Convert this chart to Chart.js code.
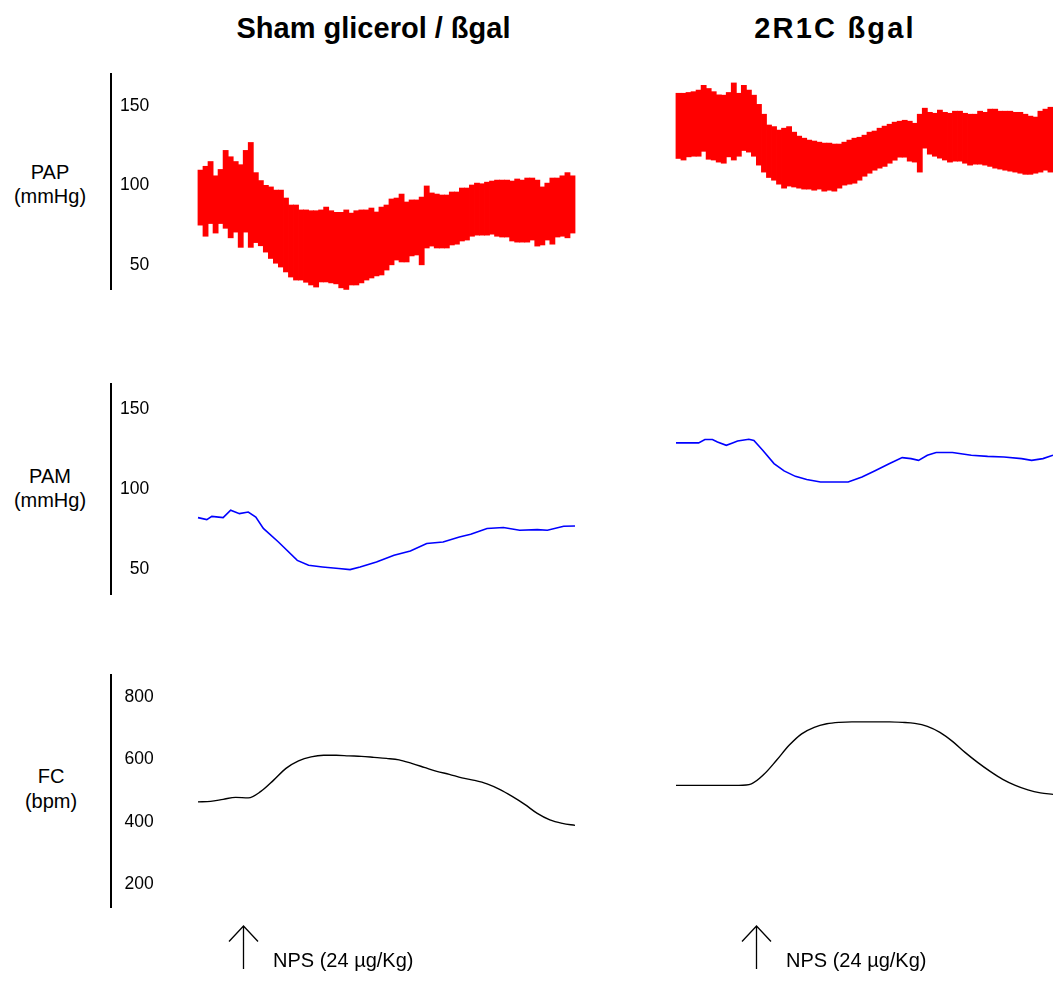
<!DOCTYPE html>
<html>
<head>
<meta charset="utf-8">
<script src="https://cdn.jsdelivr.net/npm/chart.js@4.4.1/dist/chart.umd.min.js"></script>
<style>
  html, body { margin: 0; padding: 0; background: #fff; }
  #fig { position: relative; width: 1053px; height: 982px; overflow: hidden; background: #fff;
         font-family: "Liberation Sans", Arial, sans-serif; color: #000; }
  .title { position: absolute; top: 13.5px; font-weight: bold; font-size: 29px; line-height: 29px;
           white-space: nowrap; transform: translateX(-50%); }
  .rowlab { position: absolute; font-size: 20px; line-height: 24.7px; text-align: center;
            white-space: nowrap; transform: translateX(-50%); }
  canvas { position: absolute; }
</style>
</head>
<body>
<div id="fig">
  <div class="title" style="left:373.5px">Sham glicerol / ßgal</div>
  <div class="title" style="left:835px; letter-spacing:2.2px">2R1C ßgal</div>
  <div class="rowlab" style="left:50px; top:159.6px">PAP<br>(mmHg)</div>
  <div class="rowlab" style="left:50px; top:463.6px">PAM<br>(mmHg)</div>
  <div class="rowlab" style="left:51px; top:764.3px">FC<br>(bpm)</div>
</div>
<script>
// ---- recorded traces (time in s from start of recording) ----
const groups = ['Sham glicerol / ßgal', '2R1C ßgal'];

// pulsatile arterial pressure: one beat envelope every 4 s (min / max, mmHg)
const papStep = 4;
const papMaxSham = [109.6,112,115,106,110,122,118,115,113,122,127,108,103,100,99,97,97,92,87.6,87.6,
  84.5,84.5,84,84,84.5,86.3,84,83,83,84.5,82.5,84,84.5,84.5,85.7,83.2,86.3,87.6,91.4,92,
  94.5,89.5,90.8,90.8,92.6,99.6,95.2,94.5,93.9,93.9,95.8,95.8,98.3,98.3,100.2,101.4,101,102,102.7,103.3,
  103.3,103.3,102.7,104,103.3,104.6,104.6,103.3,99,101.4,104.6,104.6,106,108,106];
const papMinSham = [75,68,76,70,76,73,67,70.6,61,70.6,61,64,62,58,54,51,48.6,45.5,42.3,40.4,
  40.4,39,37.3,36,39.2,39.2,38.6,38,35.5,34.5,37.3,37.3,38.6,40.4,41.7,43,43.6,46.7,50,53,
  51.8,51.8,55.6,56.2,50,60.6,61.8,60.6,60.6,60.6,62.5,63,65,65.6,68,68.7,68.7,68.7,69.3,68,
  67.5,67.5,65,64.3,64.3,64.3,65.6,61.8,62.5,65.6,63,67.5,68,67,70];
const papMax2R1C = [158,158,158.5,159,160,163,161,159,157,156.8,158.5,164.5,158,163,160,156.8,151,144.8,138,137,
  134.8,136,137,133.5,131,129.7,128.5,127.9,127.2,126.6,126.6,126,126,127.2,128.5,129.7,130.3,131.6,133.5,134.2,
  136,137.3,138.5,139.8,140.4,141,140.4,139.1,144.8,148.6,146,145.4,147.4,146,145.4,146.7,146.7,145.4,144.8,144.8,
  146.7,146,148,148,146.7,146.7,146.7,146,146,144.8,143.6,143,146.7,148,149.2];
const papMin2R1C = [117,116,118,118.4,118.4,121.5,116.5,116,114.7,114,118,116,118.4,122,121,118.4,112.8,108.4,105,103.3,
  100.8,98.3,99.6,99,98.3,97.7,97.7,97,97.7,96.4,97,96.4,98.3,100.2,100.8,101.4,103.3,105.8,107.7,109.6,
  110.9,112,114,115.9,117.8,117.8,115.3,114.7,108.4,123.5,119.7,118.4,117.2,116,114.7,115.3,115.3,114,112.8,113.4,
  113.4,112.8,112,110.9,110.3,109.6,109,108.4,107.7,107,107,107.7,108.4,109.6,108.4];

// mean arterial pressure (mmHg)
const pamTimeSham = [0,7,11,20,26,33,40,46,52,64,79,88,99,112,121,129,142,156,169,182,195,208,217,230,243,256,270,278,291,300];
const pamSham     = [82.1,80.9,82.9,82.1,86.7,84.6,85.6,82.5,75.4,66.9,55.4,52.3,51.3,50.3,49.6,51.3,54.4,58.6,61.3,65.9,
                     66.9,70,71.7,75.3,75.9,74.2,74.6,74.2,76.7,76.9];
const pamTime2R1C = [0,18,23,29,33,40,45,49,58,62,69,78,86,95,104,115,137,148,158,170,180,187,193,200,207,220,235,248,261,275,283,292,300];
const pam2R1C     = [128.8,128.8,130.9,130.9,129.4,127.3,128.8,130,131.1,130.4,124.2,115.9,111.3,107.9,105.9,104.4,104.4,107.5,
                     111.3,115.9,119.6,119,117.9,121.1,122.8,122.8,121.1,120.4,120,119,117.9,119,121.1];

// heart rate (bpm), every 10 s
const fcTime = [0,10,20,30,40,50,60,70,80,90,100,110,120,130,140,150,160,170,180,190,200,210,220,230,240,250,260,270,280,290,300];
const fcSham = [464.5,466,472.6,479,477.4,498,533.5,572,596,609,614,614,612,610.6,607.4,604,599.4,588,575.3,562.4,
                552.8,541.6,533.5,522.3,504.7,482,456.5,427.6,406.7,395.5,389];
const fc2R1C = [517.5,517.5,517.5,517.5,517.5,517.5,522.3,552.8,597.8,645.9,682.8,703.7,715,719.7,721.3,721.3,721.3,721.3,
                719.7,716.5,706.9,687.6,658.7,623.4,591.3,562.4,536.8,517.5,503,493.4,488.6];

// nitroprusside bolus time in each recording (s)
const npsTime = [36, 64];
const npsLabel = 'NPS (24 µg/Kg)';

// axis ticks
const papTicks = [50, 100, 150];
const pamTicks = [50, 100, 150];
const fcTicks  = [200, 400, 600, 800];

// ---- layout ----
const SEC_PX = 377 / 300;            // horizontal pixels per second, all panels
const columns = [
  { left: 0,   width: 600, areaLeft: 111, areaRight: 590,  dataStart: 198, axis: true },
  { left: 600, width: 453, areaLeft: 600, areaRight: 1053, dataStart: 676, axis: false }
];
const rows = [
  { top: 73,  bottom: 290, extraBottom: 0,  min: 34.1,  max: 170.8, ticks: papTicks, tickPad: 9 },
  { top: 383, bottom: 595, extraBottom: 0,  min: 33.75, max: 166.25, ticks: pamTicks, tickPad: 9 },
  { top: 674, bottom: 907, extraBottom: 75, min: 127.2, max: 874.8, ticks: fcTicks,  tickPad: 13.5 }
];

const FONT = '"Liberation Sans", Arial, sans-serif';
const zeroPad = s => { s.paddingTop = 0; s.paddingBottom = 0; s.paddingLeft = 0; s.paddingRight = 0; };
// the y axis is drawn as a bare line with labels inside the plot, so it takes no room
const flatAxis = s => { zeroPad(s); s.width = 0; };

const npsMarker = {
  id: 'npsMarker',
  afterDraw(chart, args, opts) {
    const ctx = chart.ctx;
    const x = Math.round(chart.scales.x.getPixelForValue(opts.time)) + 0.5;
    const base = chart.chartArea.bottom;
    const top = base + 19, bottom = base + 62;
    ctx.save();
    ctx.strokeStyle = '#000';
    ctx.lineWidth = 1.3;
    ctx.beginPath();
    ctx.moveTo(x, bottom); ctx.lineTo(x, top);
    ctx.moveTo(x - 14.5, top + 15.5); ctx.lineTo(x, top); ctx.lineTo(x + 14.5, top + 15.5);
    ctx.stroke();
    ctx.fillStyle = '#000';
    ctx.font = '20px ' + FONT;
    ctx.textBaseline = 'alphabetic';
    ctx.textAlign = 'left';
    ctx.fillText(opts.label, x + 29.5, base + 60);
    ctx.restore();
  }
};

function makeChart(col, row, datasets, type, plugins, pluginOpts) {
  const fig = document.getElementById('fig');
  const cv = document.createElement('canvas');
  const h = row.bottom - row.top + row.extraBottom;
  cv.width = col.width; cv.height = h;
  cv.style.left = col.left + 'px'; cv.style.top = row.top + 'px';
  cv.style.width = col.width + 'px'; cv.style.height = h + 'px';
  fig.appendChild(cv);
  return new Chart(cv, {
    type,
    data: { datasets },
    plugins: plugins || [],
    options: {
      responsive: false, animation: false, devicePixelRatio: 1, events: [],
      layout: { padding: { left: col.areaLeft - col.left, right: col.left + col.width - col.areaRight,
                           top: 0, bottom: row.extraBottom } },
      plugins: Object.assign({ legend: { display: false }, tooltip: { enabled: false } }, pluginOpts || {}),
      scales: {
        x: {
          type: 'linear', display: false, offset: false,
          min: (col.areaLeft - col.dataStart) / SEC_PX,
          max: (col.areaRight - col.dataStart) / SEC_PX,
          afterFit: zeroPad
        },
        y: {
          display: col.axis, min: row.min, max: row.max,
          afterBuildTicks: s => { s.ticks = row.ticks.map(v => ({ value: v })); },
          afterFit: flatAxis,
          grid: { display: false, drawTicks: false, lineWidth: 2 },
          border: { display: true, color: '#000', width: 2 },
          ticks: { mirror: true, crossAlign: 'far', padding: row.tickPad, color: '#000',
                   font: { family: FONT, size: 17.5 } }
        }
      }
    }
  });
}

function beatBars(mins, maxs) {
  return mins.map((lo, i) => ({ x: papStep * i + papStep / 2, y: [lo, maxs[i]] }));
}
function points(times, vals) {
  return times.map((t, i) => ({ x: t, y: vals[i] }));
}

const papSets = [[papMinSham, papMaxSham], [papMin2R1C, papMax2R1C]];
const pamSets = [[pamTimeSham, pamSham], [pamTime2R1C, pam2R1C]];
const fcSets  = [fcSham, fc2R1C];

columns.forEach((col, c) => {
  makeChart(col, rows[0], [{
    label: 'PAP ' + groups[c],
    data: beatBars(papSets[c][0], papSets[c][1]),
    backgroundColor: '#ff0000', borderWidth: 0,
    barPercentage: 1, categoryPercentage: 1, inflateAmount: 0.4
  }], 'bar');

  makeChart(col, rows[1], [{
    label: 'PAM ' + groups[c],
    data: points(pamSets[c][0], pamSets[c][1]),
    borderColor: '#0000ff', borderWidth: 1.6, pointRadius: 0, tension: 0, fill: false
  }], 'line');

  makeChart(col, rows[2], [{
    label: 'FC ' + groups[c],
    data: points(fcTime, fcSets[c]),
    borderColor: '#000', borderWidth: 1.4, pointRadius: 0,
    cubicInterpolationMode: 'monotone', fill: false
  }], 'line', [npsMarker], { npsMarker: { time: npsTime[c], label: npsLabel } });
});
</script>
</body>
</html>
